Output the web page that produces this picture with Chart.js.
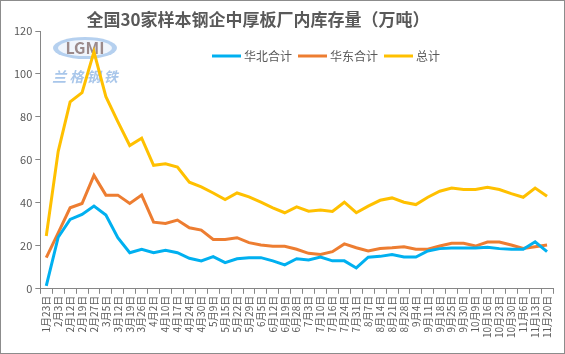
<!DOCTYPE html>
<html>
<head>
<meta charset="utf-8">
<script src="https://cdn.jsdelivr.net/npm/chart.js@4/dist/chart.umd.min.js"></script>
<style>
  html, body { margin: 0; padding: 0; background: #fff; }
  #wrap { width: 565px; height: 354px; position: relative; }
</style>
</head>
<body>
<div id="wrap"><canvas id="c" width="565" height="354"></canvas></div>
<script>
// 数据
const fechas = ["1月23日","2月3日","2月12日","2月19日","2月27日","3月5日","3月12日","3月19日","3月26日","4月2日",
  "4月10日","4月17日","4月24日","4月30日","5月9日","5月15日","5月22日","5月29日","6月5日","6月12日",
  "6月19日","6月28日","7月3日","7月10日","7月16日","7月24日","7月31日","8月7日","8月14日","8月21日",
  "8月28日","9月4日","9月11日","9月18日","9月25日","9月30日","10月9日","10月16日","10月23日","10月30日",
  "11月6日","11月13日","11月20日"];
const huabei = [1.4,24,32.3,34.6,38.5,34.3,23.8,16.8,18.4,16.8,17.9,16.8,14.2,13,15,12.2,14,14.5,14.5,13,
  11.1,14,13.4,14.8,13,13,9.7,14.7,15.1,16,14.8,14.8,17.6,18.7,19,19,19,19.3,18.7,18.4,18.4,21.9,17.3];
const huadong = [14.5,26,37.7,39.7,52.8,43.6,43.6,39.7,43.6,31,30.4,32,28.4,27.3,23,23,23.8,21.5,20.4,19.8,
  19.8,18.4,16.5,16,17.3,20.9,19.1,17.6,18.8,19.1,19.6,18.4,18.4,19.9,21.2,21.2,19.9,21.8,21.8,20.4,18.8,19.6,20.4];
const zongji = [24.6,64,87,91.3,110.3,89.4,77.8,66.7,70.1,57.5,58.2,56.7,49.6,47.4,44.6,41.5,44.6,42.8,40.3,37.7,
  35.4,38.1,36.1,36.7,36,40.3,35.4,38.5,41.2,42.3,40.3,39.2,42.6,45.4,46.9,46.2,46.2,47.3,46.2,44.3,42.6,46.9,43.1];
const titulo = "全国30家样本钢企中厚板厂内库存量（万吨）";

const FONT = "'Noto Sans CJK SC', 'Noto Sans', sans-serif";
const GRIS = "#595959";

// titulo, leyenda, marca de agua y borde
const extras = {
  id: "extras",
  beforeDatasetsDraw(chart) {
    const ctx = chart.ctx;
    ctx.save();
    ctx.fillStyle = "rgba(120,170,225,0.55)";
    ctx.beginPath();
    ctx.ellipse(85, 48, 32, 11, 0, 0, Math.PI * 2);
    ctx.fill();
    ctx.fillStyle = "rgba(255,255,255,0.8)";
    ctx.beginPath();
    ctx.ellipse(85, 48, 27, 8, 0, 0, Math.PI * 2);
    ctx.fill();
    ctx.font = "bold 16px " + FONT;
    ctx.textAlign = "center";
    ctx.textBaseline = "middle";
    ctx.fillStyle = "rgba(140,120,120,0.85)";
    ctx.fillText("LGMI", 85, 48);
    ctx.font = "italic bold 14px " + FONT;
    ctx.fillStyle = "rgba(110,160,220,0.6)";
    ctx.fillText("兰 格 钢 铁", 85, 77);
    ctx.restore();
  },
  afterDraw(chart) {
    const ctx = chart.ctx;
    ctx.save();
    ctx.font = "bold 17px " + FONT;
    ctx.fillStyle = GRIS;
    ctx.textAlign = "center";
    ctx.textBaseline = "middle";
    ctx.fillText(titulo, 258, 20);

    ctx.font = "12px " + FONT;
    ctx.textAlign = "left";
    let x = 212;
    chart.data.datasets.forEach(ds => {
      ctx.strokeStyle = ds.borderColor;
      ctx.lineWidth = 3;
      ctx.beginPath();
      ctx.moveTo(x, 56);
      ctx.lineTo(x + 29, 56);
      ctx.stroke();
      ctx.fillStyle = GRIS;
      ctx.fillText(ds.label, x + 32, 56);
      x += 32 + ctx.measureText(ds.label).width + 6;
    });

    ctx.strokeStyle = "#8c8c8c";
    ctx.lineWidth = 1;
    ctx.strokeRect(0.5, 0.5, chart.width - 1, chart.height - 1);
    ctx.restore();
  }
};

function serie(nombre, valores, color) {
  return {
    label: nombre,
    data: valores,
    borderColor: color,
    backgroundColor: color,
    borderWidth: 3,
    pointRadius: 0,
    tension: 0,
    fill: false
  };
}

new Chart(document.getElementById("c"), {
  type: "line",
  data: {
    labels: fechas,
    datasets: [
      serie("华北合计", huabei, "#00B0F0"),
      serie("华东合计", huadong, "#ED7D31"),
      serie("总计", zongji, "#FFC000")
    ]
  },
  options: {
    responsive: false,
    animation: false,
    layout: { padding: { top: 31, left: 11, right: 12, bottom: 14 } },
    plugins: { legend: { display: false }, title: { display: false }, tooltip: { enabled: false } },
    scales: {
      x: {
        offset: true,
        border: { color: "#868686" },
        grid: { drawOnChartArea: false, tickLength: 5, color: "#868686", offset: true },
        ticks: { autoSkip: false, minRotation: 90, maxRotation: 90, color: GRIS, padding: 2,
          font: { family: FONT, size: 10 } }
      },
      y: {
        min: 0, max: 120,
        border: { color: "#868686" },
        grid: { drawOnChartArea: false, tickLength: 5, color: "#868686" },
        ticks: { stepSize: 20, color: GRIS, padding: 3, font: { family: FONT, size: 11 } }
      }
    }
  },
  plugins: [extras]
});
</script>
</body>
</html>
